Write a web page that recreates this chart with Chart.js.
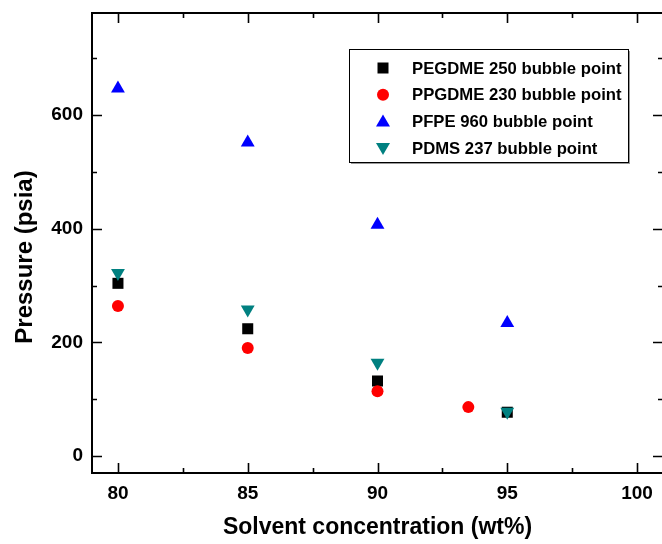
<!DOCTYPE html>
<html>
<head>
<meta charset="utf-8">
<script src="https://cdn.jsdelivr.net/npm/chart.js@4/dist/chart.umd.min.js"></script>
<style>
  html, body { margin: 0; padding: 0; background: #fff; overflow: hidden; }
  #wrap { width: 662px; height: 544px; overflow: hidden; }
</style>
</head>
<body>
<div id="wrap"><canvas id="myChart" width="664" height="544"></canvas></div>
<script>
// data
const seriesNames = [
  "PEGDME 250 bubble point",
  "PPGDME 230 bubble point",
  "PFPE 960 bubble point",
  "PDMS 237 bubble point",
];
const pegdmeX = [80, 85, 90, 95];
const pegdmeY = [304, 224, 132, 77];
const ppgdmeX = [80, 85, 90, 93.5];
const ppgdmeY = [264, 190, 114, 86];
const pfpeX = [80, 85, 90, 95];
const pfpeY = [647, 552, 407, 234];
const pdmsX = [80, 85, 90, 95];
const pdmsY = [322, 258, 164, 78];

const xMajor = [80, 85, 90, 95, 100];
const xMinor = [82.5, 87.5, 92.5, 97.5];
const yMajor = [0, 200, 400, 600];
const yMinor = [100, 300, 500, 700];

const xTitle = "Solvent concentration (wt%)";
const yTitle = "Pressure (psia)";

const toPoints = (xs, ys) => xs.map((x, i) => ({ x: x, y: ys[i] }));

const FONT = "'Liberation Sans', Arial, sans-serif";

const datasets = [
  { label: seriesNames[0], data: toPoints(pegdmeX, pegdmeY), pointStyle: "rect", pointRadius: 7.8, backgroundColor: "#000000", borderColor: "#000000", rotation: 0, order: 4 },
  { label: seriesNames[1], data: toPoints(ppgdmeX, ppgdmeY), pointStyle: "circle", pointRadius: 6, backgroundColor: "#ff0000", borderColor: "#ff0000", rotation: 0, order: 3 },
  { label: seriesNames[2], data: toPoints(pfpeX, pfpeY), pointStyle: "triangle", pointRadius: 8, backgroundColor: "#0000ff", borderColor: "#0000ff", rotation: 0, order: 2 },
  { label: seriesNames[3], data: toPoints(pdmsX, pdmsY), pointStyle: "triangle", pointRadius: 8, backgroundColor: "#008080", borderColor: "#008080", rotation: 180, order: 1 },
];
datasets.forEach((d) => {
  d.showLine = false;
  d.borderWidth = 0;
  d.pointBorderWidth = 0;
  d.pointRotation = d.rotation;
});

// frame with inward ticks on all four sides, plus the y title
const framePlugin = {
  id: "frame",
  afterDraw(chart) {
    const { ctx, chartArea: a, scales } = chart;
    const xs = scales.x, ys = scales.y;
    ctx.save();
    ctx.strokeStyle = "#000";
    ctx.lineWidth = 2;
    ctx.strokeRect(a.left, a.top, a.right - a.left, a.bottom - a.top);
    ctx.lineWidth = 1.6;
    const tick = (vals, len) => {
      vals.forEach((v) => {
        const px = Math.round(xs.getPixelForValue(v)) + 0.5;
        ctx.beginPath();
        ctx.moveTo(px, a.bottom); ctx.lineTo(px, a.bottom - len);
        ctx.moveTo(px, a.top); ctx.lineTo(px, a.top + len);
        ctx.stroke();
      });
    };
    const tickY = (vals, len) => {
      vals.forEach((v) => {
        const py = Math.round(ys.getPixelForValue(v)) + 0.5;
        ctx.beginPath();
        ctx.moveTo(a.left, py); ctx.lineTo(a.left + len, py);
        ctx.moveTo(a.right, py); ctx.lineTo(a.right - len, py);
        ctx.stroke();
      });
    };
    tick(xMajor, 10); tick(xMinor, 5);
    tickY(yMajor, 10); tickY(yMinor, 5);

    ctx.translate(25, 257);
    ctx.rotate(-Math.PI / 2);
    ctx.fillStyle = "#000";
    ctx.font = "bold 24px " + FONT;
    ctx.textAlign = "center";
    ctx.textBaseline = "middle";
    ctx.fillText(yTitle, 0, 0);
    ctx.restore();
  },
};

// legend box inside the plot
const legendPlugin = {
  id: "boxLegend",
  afterDraw(chart) {
    const ctx = chart.ctx;
    const bx = 349, by = 49, bw = 279, bh = 113;
    ctx.save();
    ctx.fillStyle = "#999";
    ctx.fillRect(bx + 2, by + bh, bw, 2);
    ctx.fillRect(bx + bw, by + 2, 2, bh);
    ctx.fillStyle = "#fff";
    ctx.fillRect(bx, by, bw, bh);
    ctx.strokeStyle = "#000";
    ctx.lineWidth = 1;
    ctx.strokeRect(bx + 0.5, by + 0.5, bw, bh);
    ctx.font = "bold 16.7px " + FONT;
    ctx.textBaseline = "middle";
    chart.data.datasets.forEach((d, i) => {
      const cy = 68 + i * 26.7;
      const cx = 383;
      ctx.fillStyle = d.backgroundColor;
      ctx.beginPath();
      if (d.pointStyle === "rect") {
        ctx.rect(cx - 5.5, cy - 5.5, 11, 11);
      } else if (d.pointStyle === "circle") {
        ctx.arc(cx, cy, 6, 0, Math.PI * 2);
      } else if (d.rotation === 180) {
        ctx.moveTo(cx - 7, cy - 5); ctx.lineTo(cx + 7, cy - 5); ctx.lineTo(cx, cy + 7);
      } else {
        ctx.moveTo(cx - 7, cy + 5); ctx.lineTo(cx + 7, cy + 5); ctx.lineTo(cx, cy - 7);
      }
      ctx.closePath();
      ctx.fill();
      ctx.fillStyle = "#000";
      ctx.fillText(d.label, 412, cy + 1);
    });
    ctx.restore();
  },
};

const ctx = document.getElementById("myChart").getContext("2d");
new Chart(ctx, {
  type: "scatter",
  data: { datasets: datasets },
  plugins: [framePlugin, legendPlugin],
  options: {
    responsive: false,
    animation: false,
    layout: { autoPadding: false, padding: { top: 13, right: 1, left: 0, bottom: 0 } },
    plugins: {
      legend: { display: false },
      tooltip: { enabled: false },
    },
    scales: {
      x: {
        type: "linear",
        min: 79,
        max: 101,
        afterBuildTicks: (s) => { s.ticks = xMajor.map((v) => ({ value: v })); },
        afterFit: (s) => {
          s.height = 71;
          s.paddingLeft = 0;
          s.paddingRight = 0;
        },
        grid: { display: false, drawTicks: false },
        border: { display: false },
        ticks: {
          padding: 9,
          color: "#000",
          font: { family: FONT, size: 19, weight: "bold" },
        },
        title: {
          display: true,
          text: xTitle,
          color: "#000",
          font: { family: FONT, size: 23, weight: "bold" },
          padding: { top: 0, bottom: 3 },
        },
      },
      y: {
        type: "linear",
        min: -30,
        max: 780,
        afterBuildTicks: (s) => { s.ticks = yMajor.map((v) => ({ value: v })); },
        afterFit: (s) => {
          s.width = 92;
          s.paddingTop = 0;
          s.paddingBottom = 0;
        },
        grid: { display: false, drawTicks: false },
        border: { display: false },
        ticks: {
          padding: 9,
          color: "#000",
          font: { family: FONT, size: 19, weight: "bold" },
        },
      },
    },
  },
});
</script>
</body>
</html>
